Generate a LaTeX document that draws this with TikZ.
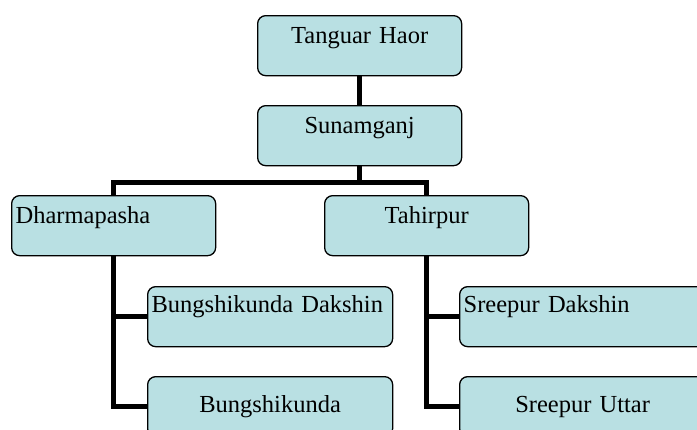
\documentclass[tikz,border=0pt]{standalone}
\usepackage{fontspec}
\setmainfont{Liberation Serif}
\definecolor{boxfill}{RGB}{185,224,227}
\pgfdeclarelayer{background}
\pgfsetlayers{background,main}
\begin{document}
\begin{tikzpicture}[x=1pt,y=-1pt,
  tbox/.style={draw=black, line width=1.3pt, rounded corners=8pt, fill=boxfill,
    anchor=north west, inner xsep=4pt, inner ysep=0pt,
    font=\fontsize{24.5}{28}\selectfont, text height=28pt, text depth=32pt},
  lbox/.style={tbox, text width=#1, align=left},
  cbox/.style={tbox, text width=#1, align=center},
  conn/.style={draw=black, line width=5pt, line join=miter}]
\useasboundingbox (0,0) rectangle (697,429);
\clip (0,0) rectangle (697,429);
\node[cbox=196pt] (th) at (257,15) {Tanguar Haor};
\node[cbox=196pt] (su) at (257,105) {Sunamganj};
\node[lbox=196pt] (dh) at (11,195) {Dharmapasha};
\node[cbox=196pt] (ta) at (324,195) {Tahirpur};
\node[lbox=237pt, text height=26pt, text depth=34pt] (bd) at (147,286) {Bungshikunda Dakshin};
\node[cbox=237pt, text height=36pt, text depth=24pt] (bk) at (147,376) {Bungshikunda};
\node[lbox=238pt, text height=26pt, text depth=34pt] (sd) at (459,286) {Sreepur Dakshin};
\node[cbox=238pt, text height=36pt, text depth=24pt] (sut) at (459,376) {Sreepur Uttar};
\coordinate (bus) at (0,182);
\begin{pgfonlayer}{background}
\draw[conn] (th.south) -- (su.north);
\draw[conn] (su.south) -- (su.south |- bus);
\draw[conn] (dh.north) -- (dh.north |- bus) -- (bus -| ta.north) -- (ta.north);
\draw[conn] (dh.south) |- (bk.west);
\draw[conn] (dh.south |- bd.west) -- (bd.west);
\draw[conn] (ta.south) |- (sut.west);
\draw[conn] (ta.south |- sd.west) -- (sd.west);
\end{pgfonlayer}
\end{tikzpicture}
\end{document}
